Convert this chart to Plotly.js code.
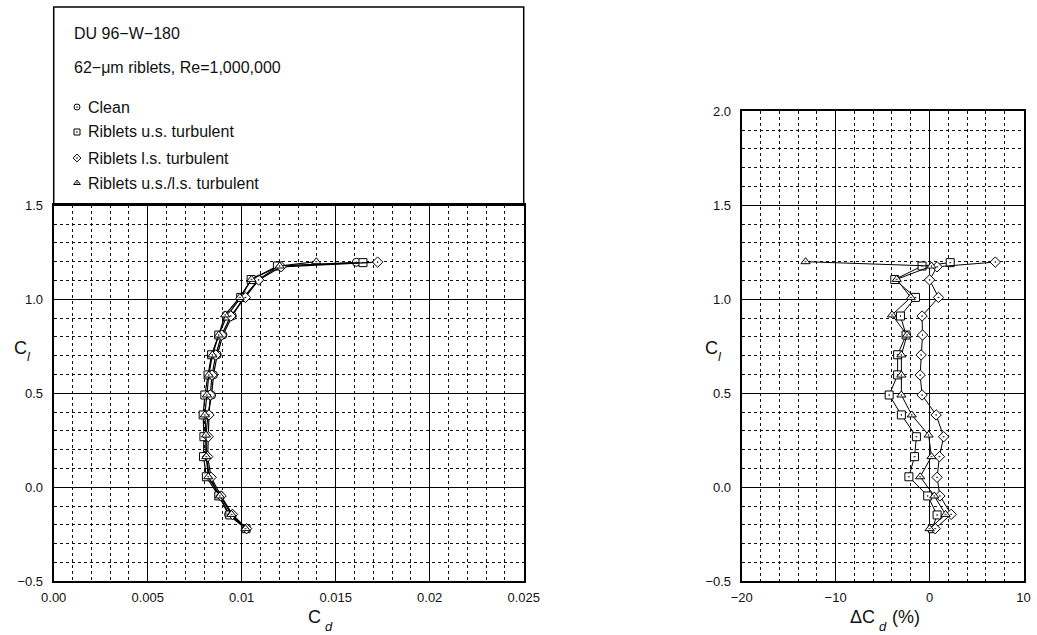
<!DOCTYPE html>
<html><head><meta charset="utf-8">
<script src="https://cdn.plot.ly/plotly-3.0.1.min.js"></script>
<style>html,body{margin:0;padding:0;background:#fff}#chart{width:1037px;height:635px}</style>
</head><body><div id="chart"></div>
<script>
// ---- data ----
const clClean = [-0.22,-0.145,-0.046,0.055,0.163,0.272,0.385,0.49,0.598,0.705,0.81,0.911,1.01,1.105,1.177,1.197];
const cdClean = [0.0102,0.0093,0.0088,0.0083,0.0081,0.0081,0.0082,0.0084,0.0085,0.0087,0.0090,0.0095,0.0101,0.0109,0.0120,0.0161];

const clUS = [-0.22,-0.147,-0.046,0.056,0.163,0.269,0.385,0.491,0.598,0.705,0.81,0.911,1.01,1.105,1.177,1.195];
const cdUS = [0.01023,0.00937,0.00878,0.00812,0.00797,0.00799,0.00795,0.00804,0.00821,0.00840,0.00878,0.00921,0.00995,0.01050,0.01190,0.01645];
const dUS  = [0.3,0.8,-0.2,-2.2,-1.6,-1.4,-3.0,-4.3,-3.4,-3.4,-2.5,-3.1,-1.5,-3.7,-0.8,2.2];

const clLS = [-0.22,-0.144,-0.046,0.053,0.163,0.269,0.385,0.491,0.597,0.704,0.81,0.911,1.01,1.103,1.173,1.198];
const cdLS = [0.01026,0.00951,0.00890,0.00837,0.00819,0.00822,0.00826,0.00833,0.00842,0.00862,0.00893,0.00942,0.01020,0.01090,0.01210,0.01723];
const dLS  = [0.6,2.3,1.1,0.8,1.05,1.5,0.7,-0.8,-1.0,-0.9,-0.75,-0.8,0.95,0.0,0.8,7.0];

const clULS = [-0.22,-0.144,-0.046,0.056,0.163,0.278,0.385,0.491,0.597,0.704,0.81,0.917,1.01,1.106,1.177,1.20];
const cdULS = [0.01020,0.00946,0.00884,0.00822,0.00812,0.00810,0.00804,0.00815,0.00825,0.00844,0.00878,0.00912,0.00990,0.01052,0.01202,0.01397];
const dULS  = [0.0,1.7,0.5,-1.0,0.2,-0.1,-1.9,-3.0,-3.0,-3.0,-2.4,-4.0,-2.0,-3.5,0.2,-13.2];

const xTickVals = [0,0.005,0.01,0.015,0.02,0.025];
const xTickText = ['0.00','0.005','0.01','0.015','0.02','0.025'];
const legendNames = ['Clean','Riblets u.s. turbulent','Riblets l.s. turbulent','Riblets u.s./l.s. turbulent'];
const title1 = 'DU 96\u2212W\u2212180';
const title2 = '62\u2212\u03bcm riblets, Re=1,000,000';

// ---- styling ----
const FONT = 'Liberation Sans, Arial, Helvetica, sans-serif';
const symbols = ['circle-dot','square-dot','diamond-dot','triangle-up-dot'];
const W = 1037, H = 635;
const px = (x)=>x/W, py = (y)=>1 - y/H;
function mk(sym, size){ return {symbol: sym, size: size, color: '#fff', line: {color: '#000', width: 1}}; }

const traces = [];
const leftSets = [[cdClean, clClean],[cdUS, clUS],[cdLS, clLS],[cdULS, clULS]];
leftSets.forEach((s,i)=>{
  traces.push({x: s[0], y: s[1], xaxis:'x', yaxis:'y', mode:'lines+markers', line: {color:'#000', width:1.2}, marker: mk(symbols[i],8), showlegend:false, cliponaxis:false});
});
const rightSets = [[dUS, clUS],[dLS, clLS],[dULS, clULS]];
rightSets.forEach((s,i)=>{
  traces.push({x: s[0], y: s[1], xaxis:'x2', yaxis:'y2', mode:'lines+markers', line: {color:'#000', width:1}, marker: mk(symbols[i+1],8), showlegend:false, cliponaxis:false});
});

// legend key symbols (layout positions on a hidden full-page axis pair)
const legX = 77, legTextX = 86;
const legY = [107,132,158,183];
traces.push({x: legY.map(()=>legX), y: legY, xaxis:'x3', yaxis:'y3', mode:'markers',
  marker: {symbol: symbols, size: 6, color: '#fff', line: {color:'#000', width: 1}}, showlegend:false});

const gridMinor = (dt)=>({tickmode:'linear', tick0:0, dtick: dt, showgrid:true, gridcolor:'#111', gridwidth:1, griddash:'3px,3px', ticks:''});
const axBase = {showline:true, linewidth:2, linecolor:'#000', mirror:true, zeroline:false, ticks:'',
  showgrid:true, gridcolor:'#000', gridwidth:1, tickfont:{family:FONT, size:13, color:'#111'}, fixedrange:true};

const yDom = [(H-581.3)/H, (H-205.3)/H];
const y2Dom = [(H-581.3)/H, (H-111.3)/H];

const annotations = [];
function ann(text, x, y, xa, size, italic){
  const f = {family:FONT, size:size, color:'#111'};
  if (italic) f.style = 'italic';
  annotations.push({text: text, x: px(x), y: py(y), xref:'paper', yref:'paper', xanchor: xa, yanchor:'middle', showarrow:false, font:f});
}
ann(title1, 72, 33, 'left', 16);
ann(title2, 72, 68, 'left', 16);
legendNames.forEach((n,i)=>ann(n, legTextX, legY[i], 'left', 16));
// axis titles: C with italic subscript
ann('C', 12, 348, 'left', 18); ann('l', 25, 356, 'left', 13, true);
ann('C', 703, 348, 'left', 18); ann('l', 716, 356, 'left', 13, true);
ann('C', 323, 617, 'right', 18); ann('d', 323, 626, 'left', 13, true);
ann('\u0394C', 877, 617, 'right', 18); ann('d', 877, 626, 'left', 13, true); ann('(%)', 890, 617, 'left', 18);

const layout = {
  width: W, height: H, margin:{l:0,r:0,t:0,b:0},
  paper_bgcolor:'#fff', plot_bgcolor:'rgba(0,0,0,0)',
  showlegend:false, hovermode:false,
  xaxis: Object.assign({}, axBase, {domain:[53.7/W, 523.7/W], range:[0,0.025], anchor:'y',
    tickmode:'array', tickvals:xTickVals, ticktext:xTickText, ticklabelstandoff:3, minor: gridMinor(0.001)}),
  yaxis: Object.assign({}, axBase, {domain:yDom, range:[-0.5,1.5], anchor:'x', tickmode:'linear', tick0:0, dtick:0.5,
    tickformat:'.1f', ticklabelstandoff:6, minor: gridMinor(0.1)}),
  xaxis2: Object.assign({}, axBase, {domain:[741.7/W, 1023.5/W], range:[-20,10], anchor:'y2',
    tickmode:'linear', tick0:0, dtick:10, ticklabelstandoff:3, minor: gridMinor(2)}),
  yaxis2: Object.assign({}, axBase, {domain:y2Dom, range:[-0.5,2.0], anchor:'x2', tickmode:'linear', tick0:0, dtick:0.5,
    tickformat:'.1f', ticklabelstandoff:6, minor: gridMinor(0.1)}),
  xaxis3: {domain:[0,1], range:[0,W], visible:false, anchor:'y3', fixedrange:true},
  yaxis3: {domain:[0,1], range:[H,0], visible:false, anchor:'x3', fixedrange:true},
  shapes: [{type:'rect', xref:'paper', yref:'paper', x0:px(53.7), x1:px(523.7), y0:py(205.3), y1:py(7), line:{color:'#000', width:1.5}}],
  annotations: annotations
};
Plotly.newPlot('chart', traces, layout, {staticPlot:true, displayModeBar:false});
</script></body></html>
